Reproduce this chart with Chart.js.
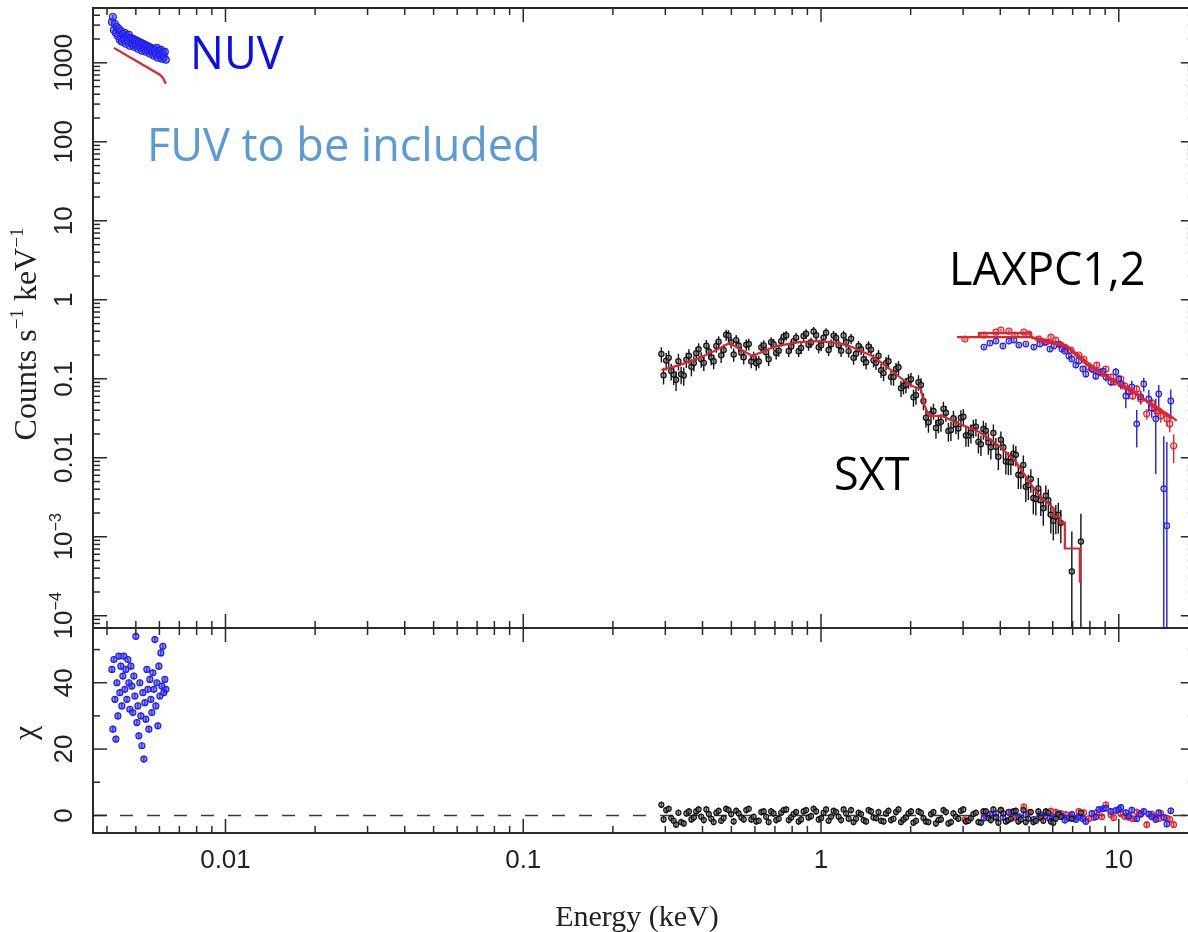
<!DOCTYPE html>
<html>
<head>
<meta charset="utf-8">
<title>AstroSat broadband spectrum</title>
<script src="https://cdn.jsdelivr.net/npm/chart.js@4.4.1/dist/chart.umd.min.js"></script>
<style>
  html, body { margin: 0; padding: 0; background: #fff; overflow: hidden; }
  #wrap { position: relative; width: 1188px; height: 932px; overflow: hidden; }
  #wrap canvas { position: absolute; left: 0; top: 0; }
</style>
</head>
<body>
<div id="wrap">
  <canvas id="spectrum" width="1200" height="932"></canvas>
  <canvas id="residuals" width="1200" height="932"></canvas>
</div>
<script>
// ===============================
// DATA
// ===============================

// UVIT NUV (keV, counts s^-1 keV^-1, chi)
const nuvEnergy = [0.004155, 0.004187, 0.004219, 0.004252, 0.004285, 0.004318, 0.004352, 0.004385, 0.004419, 0.004454,
    0.004488, 0.004523, 0.004558, 0.004593, 0.004629, 0.004665, 0.004701, 0.004738, 0.004774, 0.004811,
    0.004849, 0.004886, 0.004924, 0.004962, 0.005001, 0.005040, 0.005079, 0.005118, 0.005158, 0.005198,
    0.005238, 0.005279, 0.005320, 0.005361, 0.005403, 0.005445, 0.005487, 0.005530, 0.005573, 0.005616,
    0.005660, 0.005704, 0.005748, 0.005793, 0.005837, 0.005883, 0.005928, 0.005974, 0.006021, 0.006068,
    0.006115, 0.006162, 0.006210, 0.006258, 0.006307];
const nuvCounts = [3294, 3809, 2610, 3108, 2392, 2848, 2192, 2687, 1952, 2535,
    1842, 2324, 2009, 2392, 1738, 2130, 1896, 2257, 1639, 2069,
    1789, 2009, 1592, 1952, 1688, 1896, 1502, 1842, 1639, 1789,
    1418, 1738, 1547, 1688, 1377, 1639, 1459, 1592, 1299, 1547,
    1377, 1502, 1226, 1459, 1299, 1547, 1157, 1418, 1262, 1459,
    1123, 1338, 1191, 1377, 1091];
const nuvErr = 0.06;
const nuvChi = [44, 26, 47, 35, 23, 40, 30, 48, 37, 45,
    33, 42, 48, 38, 44, 35, 47, 40, 32, 45,
    39, 31, 42, 36, 54, 28, 33, 24, 40, 30,
    21, 37, 17, 34, 29, 44, 38, 26, 41, 35,
    31, 43, 38, 53, 33, 40, 27, 45, 36, 49,
    39, 51, 37, 41, 38];
const nuvModelEnergy = [0.004219, 0.006021, 0.006163, 0.006307];
const nuvModel = [1547, 706, 647, 543];

// SXT
const sxtEnergy = [0.291, 0.296, 0.302, 0.308, 0.314, 0.320, 0.326, 0.332, 0.339, 0.346,
    0.353, 0.360, 0.367, 0.374, 0.381, 0.388, 0.396, 0.404, 0.412, 0.420,
    0.428, 0.436, 0.445, 0.453, 0.462, 0.471, 0.480, 0.489, 0.499, 0.509,
    0.519, 0.529, 0.540, 0.550, 0.561, 0.572, 0.583, 0.594, 0.606, 0.618,
    0.630, 0.642, 0.654, 0.667, 0.680, 0.693, 0.707, 0.721, 0.735, 0.749,
    0.764, 0.779, 0.794, 0.809, 0.825, 0.841, 0.857, 0.874, 0.891, 0.908,
    0.926, 0.944, 0.963, 0.982, 1.001, 1.020, 1.040, 1.060, 1.081, 1.102,
    1.124, 1.146, 1.168, 1.191, 1.214, 1.238, 1.262, 1.286, 1.311, 1.337,
    1.363, 1.390, 1.417, 1.444, 1.472, 1.501, 1.530, 1.560, 1.591, 1.622,
    1.653, 1.685, 1.718, 1.752, 1.786, 1.821, 1.856, 1.892, 1.929, 1.967,
    2.005, 2.044, 2.084, 2.125, 2.166, 2.208, 2.251, 2.295, 2.340, 2.386,
    2.432, 2.480, 2.528, 2.577, 2.627, 2.678, 2.731, 2.784, 2.838, 2.893,
    2.950, 3.007, 3.066, 3.126, 3.187, 3.249, 3.313, 3.377, 3.443, 3.510,
    3.578, 3.648, 3.719, 3.792, 3.866, 3.941, 4.018, 4.096, 4.176, 4.257,
    4.340, 4.425, 4.511, 4.599, 4.689, 4.780, 4.873, 4.968, 5.065, 5.164,
    5.265, 5.368, 5.472, 5.579, 5.689, 5.800, 5.913, 6.028, 6.145, 6.265,
    6.388, 6.955, 7.46];
const sxtCounts = [0.206, 0.111, 0.170, 0.184, 0.125, 0.113, 0.097, 0.167, 0.114, 0.110,
    0.175, 0.196, 0.142, 0.158, 0.211, 0.237, 0.177, 0.159, 0.262, 0.221,
    0.186, 0.167, 0.260, 0.295, 0.198, 0.231, 0.361, 0.354, 0.291, 0.203,
    0.309, 0.264, 0.213, 0.187, 0.270, 0.275, 0.166, 0.186, 0.157, 0.166,
    0.250, 0.265, 0.217, 0.177, 0.291, 0.274, 0.212, 0.227, 0.299, 0.340,
    0.354, 0.225, 0.257, 0.300, 0.332, 0.223, 0.246, 0.349, 0.371, 0.270,
    0.288, 0.398, 0.355, 0.251, 0.266, 0.332, 0.382, 0.231, 0.274, 0.352,
    0.330, 0.266, 0.227, 0.353, 0.290, 0.224, 0.321, 0.184, 0.207, 0.260,
    0.237, 0.177, 0.162, 0.256, 0.234, 0.171, 0.159, 0.196, 0.128, 0.118,
    0.158, 0.167, 0.105, 0.105, 0.133, 0.140, 0.0761, 0.0811, 0.0840, 0.0949,
    0.0986, 0.0584, 0.0619, 0.0906, 0.0835, 0.0524, 0.0322, 0.0281, 0.0359, 0.0392,
    0.0239, 0.0277, 0.0285, 0.0416, 0.0371, 0.0219, 0.0224, 0.0316, 0.0264, 0.0234,
    0.0322, 0.0331, 0.0191, 0.0191, 0.0208, 0.0241, 0.0248, 0.0159, 0.0148, 0.0231,
    0.0220, 0.0156, 0.0136, 0.0206, 0.0138, 0.0103, 0.0169, 0.0136, 0.0090, 0.0089,
    0.0088, 0.0113, 0.0109, 0.0061, 0.0060, 0.0081, 0.0043, 0.0045, 0.0054, 0.0031,
    0.0030, 0.0041, 0.0029, 0.0023, 0.0033, 0.0029, 0.0019, 0.0016, 0.0018, 0.0019,
    0.0015, 0.000364, 0.00087];
// fractional 1-sigma errors
const sxtErr = [0.22, 0.24, 0.25, 0.23, 0.24, 0.26, 0.28, 0.24, 0.25, 0.26,
    0.22, 0.21, 0.24, 0.22, 0.20, 0.19, 0.22, 0.21, 0.18, 0.19,
    0.20, 0.21, 0.18, 0.17, 0.20, 0.18, 0.16, 0.16, 0.17, 0.19,
    0.16, 0.17, 0.18, 0.19, 0.16, 0.17, 0.18, 0.18, 0.19, 0.18,
    0.16, 0.16, 0.17, 0.18, 0.15, 0.16, 0.17, 0.16, 0.15, 0.14,
    0.14, 0.16, 0.16, 0.15, 0.15, 0.16, 0.16, 0.14, 0.14, 0.16,
    0.15, 0.14, 0.14, 0.16, 0.16, 0.15, 0.14, 0.16, 0.15, 0.14,
    0.15, 0.16, 0.17, 0.15, 0.15, 0.17, 0.15, 0.18, 0.17, 0.16,
    0.16, 0.18, 0.19, 0.17, 0.17, 0.19, 0.19, 0.18, 0.20, 0.21,
    0.19, 0.20, 0.21, 0.22, 0.19, 0.20, 0.23, 0.22, 0.22, 0.21,
    0.21, 0.24, 0.24, 0.22, 0.22, 0.24, 0.25, 0.26, 0.24, 0.23,
    0.27, 0.26, 0.25, 0.23, 0.23, 0.27, 0.27, 0.25, 0.25, 0.27,
    0.24, 0.25, 0.28, 0.28, 0.27, 0.26, 0.25, 0.29, 0.29, 0.27,
    0.26, 0.30, 0.30, 0.28, 0.29, 0.32, 0.27, 0.30, 0.32, 0.32,
    0.31, 0.30, 0.29, 0.34, 0.33, 0.32, 0.36, 0.35, 0.33, 0.38,
    0.38, 0.35, 0.37, 0.40, 0.35, 0.37, 0.42, 0.44, 0.40, 0.42,
    0.45, 2.2, 1.25];
const sxtChi = [3.2, -1.2, 1.6, 2.0, -0.8, -1.6, -2.8, 0.8, -2.0, -2.4,
    0.6, 1.2, -1.2, -0.6, 1.2, 1.8, -0.4, -1.4, 1.8, 0.4,
    -1.0, -2.0, 0.8, 1.4, -1.6, -0.8, 2.0, 1.6, 0.4, -1.8,
    1.4, 0.6, -0.6, -1.2, 1.6, 2.0, -1.2, -0.4, -1.8, -1.6,
    1.0, 1.2, -0.4, -2.0, 1.2, 0.6, -1.4, -1.0, 0.8, 1.6,
    1.8, -1.4, -0.6, 0.4, 1.0, -1.8, -1.2, 1.2, 1.6, -0.6,
    -0.2, 2.0, 1.2, -1.2, -0.8, 0.8, 1.8, -1.6, -0.4, 1.4,
    1.0, -0.4, -1.4, 1.8, 0.6, -1.0, 1.6, -2.0, -1.0, 0.8,
    0.4, -1.4, -1.8, 1.6, 1.2, -0.6, -0.8, 1.0, -1.6, -1.8,
    0.6, 1.4, -1.4, -1.0, 1.0, 1.8, -2.0, -1.2, -0.6, 0.6,
    1.2, -2.2, -1.6, 1.2, 0.8, -0.8, -1.8, -2.0, 0.4, 1.0,
    -2.4, -1.4, -1.2, 1.6, 1.0, -2.4, -2.0, 0.6, -0.4, -1.0,
    1.4, 1.8, -1.8, -1.6, -0.8, 0.4, 0.8, -2.0, -2.2, 1.2,
    1.2, -0.8, -1.4, 1.8, -0.6, -2.2, 1.6, 0.6, -1.8, -1.4,
    -1.0, 1.2, 1.4, -1.8, -1.2, 1.6, -2.0, -1.0, 1.0, -2.0,
    -1.6, 1.2, -0.6, -1.6, 1.2, 0.8, -1.8, -2.2, -1.0, 0.4,
    -0.4, -1.0, 0.8];
const sxtModelEnergy = [0.291, 0.334, 0.390, 0.438, 0.492, 0.588, 0.706, 0.844, 0.985, 1.15,
    1.27, 1.484, 1.653, 1.870, 2.021, 2.166, 2.216, 2.305, 2.548, 2.906,
    3.392, 3.958, 4.512, 5.107, 5.515, 5.82, 6.05, 6.05, 6.34, 6.34,
    6.59, 6.59, 7.40, 7.40, 7.51];
const sxtModel = [0.129, 0.149, 0.183, 0.224, 0.283, 0.194, 0.2595, 0.291, 0.300, 0.283,
    0.252, 0.194, 0.145, 0.0994, 0.0811, 0.0743, 0.0481, 0.0339, 0.0339, 0.0269,
    0.0213, 0.0142, 0.0089, 0.00443, 0.00304, 0.00263, 0.00227, 0.00180, 0.00180, 0.00151,
    0.00151, 0.00071, 0.00071, 0.000272, 0.000272];

// LAXPC1 (red)
const lx1Energy = [3.043, 3.525, 3.868, 4.020, 4.276, 4.477, 4.800, 4.990, 5.390, 5.645,
    5.915, 6.145, 6.388, 6.637, 6.901, 7.341, 7.631, 7.933, 8.244, 8.437,
    8.770, 9.052, 9.402, 9.623, 10.16, 10.47, 10.80, 11.14, 11.49, 11.85,
    12.41, 12.90, 13.21, 13.62, 13.83, 14.50, 14.83, 15.29];
const lx1Counts = [0.318, 0.357, 0.390, 0.413, 0.401, 0.357, 0.390, 0.368, 0.318, 0.291,
    0.337, 0.309, 0.267, 0.245, 0.231, 0.200, 0.178, 0.141, 0.129, 0.149,
    0.118, 0.133, 0.105, 0.0912, 0.0994, 0.0811, 0.0701, 0.0607, 0.0743, 0.0556,
    0.0360, 0.0495, 0.0416, 0.0392, 0.0339, 0.0311, 0.0269, 0.0142];
const lx1Err = [0.04, 0.04, 0.04, 0.04, 0.05, 0.05, 0.05, 0.05, 0.05, 0.06,
    0.06, 0.06, 0.06, 0.07, 0.07, 0.07, 0.07, 0.08, 0.08, 0.08,
    0.08, 0.09, 0.09, 0.10, 0.10, 0.10, 0.12, 0.12, 0.12, 0.14,
    0.15, 0.15, 0.16, 0.18, 0.18, 0.20, 0.22, 0.40];
const lx1Chi = [-1.3, 0.4, -0.5, 1.6, 1.0, -0.6, 2.6, 0.9, -0.8, -0.2,
    1.3, 1.0, 0.6, 0.3, -0.4, 1.2, 0.8, -1.0, -0.6, 0.8,
    -0.4, 3.2, 0.2, -0.7, 0.5, -0.3, -0.6, -1.0, 1.0, 0.3,
    -2.8, 0.4, -0.5, -1.0, 0.6, -0.8, -1.2, -2.8];
const lx1ModelEnergy = [2.862, 3.392, 5.067, 5.515, 6.637, 7.750, 9.474, 11.06, 12.90, 15.06, 15.65];
const lx1Model = [0.337, 0.337, 0.337, 0.300, 0.2595, 0.1538, 0.0994, 0.0681, 0.0481, 0.0329, 0.0293];

// LAXPC2 (blue)
const lx2Energy = [3.525, 3.692, 3.868, 4.082, 4.276, 4.443, 4.618, 4.875, 5.186, 5.433,
    5.690, 5.869, 6.053, 6.291, 6.440, 6.589, 6.797, 6.955, 7.174, 7.341,
    7.573, 7.750, 8.121, 8.372, 8.570, 8.838, 9.052, 9.402, 9.777, 10.0,
    10.16, 10.56, 10.80, 11.06, 11.49, 11.85, 12.13, 12.61, 12.90, 13.31,
    13.62, 14.16, 14.50, 14.95];
const lx2Counts = [0.252, 0.283, 0.300, 0.260, 0.300, 0.309, 0.267, 0.275, 0.252, 0.275,
    0.291, 0.238, 0.260, 0.275, 0.238, 0.224, 0.194, 0.178, 0.149, 0.168,
    0.133, 0.115, 0.133, 0.108, 0.122, 0.125, 0.105, 0.0912, 0.122, 0.0994,
    0.086, 0.0607, 0.0681, 0.0788, 0.0269, 0.0589, 0.086, 0.0556, 0.0428, 0.0311,
    0.0643, 0.00406, 0.00138, 0.0524];
const lx2Err = [0.05, 0.05, 0.05, 0.05, 0.05, 0.05, 0.05, 0.05, 0.06, 0.06,
    0.06, 0.06, 0.06, 0.07, 0.07, 0.07, 0.07, 0.08, 0.08, 0.08,
    0.08, 0.10, 0.10, 0.10, 0.10, 0.10, 0.12, 0.12, 0.12, 0.12,
    0.15, 0.30, 0.20, 0.20, 0.50, 0.20, 0.20, 0.30, 0.25, 0.80,
    0.30, 3.6, 10.5, 0.40];
const lx2Chi = [-0.8, 0.3, 0.6, -0.6, 0.9, 1.0, -0.4, 0.2, -1.2, 0.2,
    0.8, -0.9, -0.6, 0.4, -0.3, -1.4, -0.8, 0.3, -1.2, -0.5,
    -1.0, -1.8, 0.6, -0.4, 1.8, 2.0, 2.2, 1.2, 1.5, 1.8,
    2.4, 0.8, -0.2, 1.6, -1.0, 0.5, 1.2, 0.4, -0.4, -1.2,
    0.8, -0.6, -2.6, 1.4];
const lx2ModelEnergy = [3.392, 3.392, 5.067, 5.067, 5.515, 6.637, 7.750, 9.474, 11.06, 12.90, 15.06];
const lx2Model = [0.337, 0.379, 0.379, 0.337, 0.318, 0.267, 0.1678, 0.0938, 0.0743, 0.0453, 0.0311];

// axis ranges and labelled ticks
const energyRange = [0.00359, 18];
const countRange = [7.26e-5, 4940];
const chiRange = [-5.3, 56.5];
const energyTickValues = [0.01, 0.1, 1, 10];
const energyTickLabels = ['0.01', '0.1', '1', '10'];
const countTickValues = [1e-4, 1e-3, 0.01, 0.1, 1, 10, 100, 1000];
const countTickLabels = ['10^\u22124', '10^\u22123', '0.01', '0.1', '1', '10', '100', '1000'];
const chiTickValues = [0, 20, 40];
const chiMinorTicks = [10, 30, 50];

// ===============================
// STYLE + HELPERS
// ===============================

const AXIS = '#2a2a2a';
const BLACK = '#111111';
const BLUE = '#1f1fe8';
const RED = '#e0242c';
const SANS = '"Liberation Sans", Arial, sans-serif';
const SERIF = '"Liberation Serif", "Times New Roman", serif';
const LABEL_FONT = '"Open Sans", "Noto Sans", sans-serif';

const points = (xs, ys) => xs.map((x, i) => ({ x, y: ys[i] }));

// every 1..9 x 10^n step inside [min, max]
function logTicks(min, max) {
    const out = [];
    for (let e = Math.floor(Math.log10(min)); e <= Math.ceil(Math.log10(max)); e++) {
        for (let m = 1; m <= 9; m++) {
            const v = m * Math.pow(10, e);
            if (v >= min && v <= max) out.push({ v, major: m === 1 });
        }
    }
    return out;
}

function line(ctx, x1, y1, x2, y2) {
    ctx.beginPath();
    ctx.moveTo(x1, y1);
    ctx.lineTo(x2, y2);
    ctx.stroke();
}

// text with "^" marking a raised run, optionally turned to read upwards
function drawRich(ctx, text, size, family, x, y, rotate) {
    const parts = text.split(/(\^[^ ]+)/).filter(s => s).map(s =>
        s[0] === '^' ? { t: s.slice(1), sup: true } : { t: s, sup: false });
    ctx.save();
    ctx.translate(x, y);
    if (rotate) ctx.rotate(-Math.PI / 2);
    ctx.textAlign = 'left';
    ctx.textBaseline = 'alphabetic';
    const fonts = parts.map(p => (p.sup ? Math.round(size * 0.6) : size) + 'px ' + family);
    const widths = parts.map((p, i) => { ctx.font = fonts[i]; return ctx.measureText(p.t).width; });
    let cx = -widths.reduce((a, b) => a + b, 0) / 2;
    parts.forEach((p, i) => {
        ctx.font = fonts[i];
        ctx.fillText(p.t, cx, p.sup ? -size * 0.42 : 0);
        cx += widths[i];
    });
    ctx.restore();
}

// vertical error bars; "errors" are fractional (array or one value),
// "unitErrors" means +-1 as for chi residuals
const errorBars = {
    id: 'errorBars',
    beforeDatasetsDraw(chart) {
        const { ctx, chartArea: a, scales: { y } } = chart;
        ctx.save();
        ctx.beginPath();
        ctx.rect(a.left, a.top, a.right - a.left, a.bottom - a.top);
        ctx.clip();
        chart.data.datasets.forEach((ds, i) => {
            if (ds.errors === undefined && !ds.unitErrors) return;
            ctx.strokeStyle = ds.borderColor;
            ctx.lineWidth = 1.4;
            chart.getDatasetMeta(i).data.forEach((pt, j) => {
                const v = ds.data[j].y;
                let hi, lo;
                if (ds.unitErrors) {
                    hi = y.getPixelForValue(v + 1);
                    lo = y.getPixelForValue(v - 1);
                } else {
                    const f = Array.isArray(ds.errors) ? ds.errors[j] : ds.errors;
                    hi = y.getPixelForValue(v * (1 + f));
                    lo = v * (1 - f) > 0 ? y.getPixelForValue(v * (1 - f)) : a.bottom;
                }
                line(ctx, pt.x, hi, pt.x, lo);
            });
        });
        ctx.restore();
    }
};

const energyTicks = logTicks(energyRange[0], energyRange[1]);
const countTicks = logTicks(countRange[0], countRange[1]);

function dataSet(xs, ys, color, fill, radius, extra) {
    return Object.assign({
        data: points(xs, ys),
        borderColor: color,
        backgroundColor: fill,
        pointRadius: radius,
        pointBorderWidth: 1.2,
        showLine: false,
        order: 2
    }, extra);
}

function modelSet(xs, ys) {
    return {
        data: points(xs, ys),
        borderColor: RED,
        borderWidth: 2.2,
        pointRadius: 0,
        showLine: true,
        tension: 0,
        order: 0
    };
}

const common = {
    responsive: false,
    animation: false,
    devicePixelRatio: 1,
    events: [],
    plugins: { legend: { display: false }, tooltip: { enabled: false } }
};

// ===============================
// SPECTRUM PANEL
// ===============================

const spectrumAxes = {
    id: 'spectrumAxes',
    afterDraw(chart) {
        const { ctx, chartArea: a, scales: { x, y } } = chart;
        ctx.save();
        ctx.strokeStyle = AXIS;
        ctx.lineWidth = 1.5;
        energyTicks.forEach(t => {
            const px = x.getPixelForValue(t.v);
            const len = t.major ? 14 : 7;
            line(ctx, px, a.top, px, a.top + len);
            line(ctx, px, a.bottom, px, a.bottom - len);
        });
        countTicks.forEach(t => {
            const py = y.getPixelForValue(t.v);
            const len = t.major ? 14 : 7;
            line(ctx, a.left, py, a.left + len, py);
            line(ctx, a.right, py, a.right - len, py);
        });
        ctx.lineWidth = 2;
        ctx.strokeRect(a.left, a.top, a.right - a.left, a.bottom - a.top);

        ctx.fillStyle = '#222';
        countTickValues.forEach((v, i) => {
            drawRich(ctx, countTickLabels[i], 26, SANS, 72, y.getPixelForValue(v), true);
        });
        drawRich(ctx, 'Counts s^\u22121 keV^\u22121', 32, SERIF, 36, 334, true);

        ctx.font = '45px ' + LABEL_FONT;
        ctx.textAlign = 'left';
        ctx.textBaseline = 'alphabetic';
        ctx.fillStyle = '#0d0df2';
        ctx.fillText('NUV', 190, 69);
        ctx.fillStyle = '#5b9bd5';
        ctx.fillText('FUV to be included', 147, 161);
        ctx.fillStyle = '#000';
        ctx.fillText('LAXPC1,2', 949, 285);
        ctx.fillText('SXT', 834, 490);
        ctx.restore();
    }
};

new Chart(document.getElementById('spectrum'), {
    type: 'scatter',
    data: {
        datasets: [
            dataSet(nuvEnergy, nuvCounts, BLUE, 'rgba(60,60,255,0.5)', 3.4, { errors: nuvErr }),
            dataSet(sxtEnergy, sxtCounts, BLACK, 'rgba(110,110,110,0.55)', 2.6, { errors: sxtErr }),
            dataSet(lx2Energy, lx2Counts, BLUE, 'rgba(120,120,255,0.25)', 2.8, { errors: lx2Err }),
            dataSet(lx1Energy, lx1Counts, RED, 'rgba(255,120,120,0.2)', 3, { errors: lx1Err }),
            modelSet(nuvModelEnergy, nuvModel),
            modelSet(sxtModelEnergy, sxtModel),
            modelSet(lx1ModelEnergy, lx1Model),
            modelSet(lx2ModelEnergy, lx2Model)
        ]
    },
    options: Object.assign({}, common, {
        layout: { padding: { left: 93, top: 8, right: 4, bottom: 304 } },
        scales: {
            x: { type: 'logarithmic', min: energyRange[0], max: energyRange[1], display: false },
            y: { type: 'logarithmic', min: countRange[0], max: countRange[1], display: false }
        }
    }),
    plugins: [errorBars, spectrumAxes]
});

// ===============================
// RESIDUAL PANEL
// ===============================

const residualAxes = {
    id: 'residualAxes',
    beforeDatasetsDraw(chart) {
        const { ctx, chartArea: a, scales: { y } } = chart;
        ctx.save();
        ctx.strokeStyle = '#3a3a3a';
        ctx.lineWidth = 1.5;
        ctx.setLineDash([13, 14]);
        line(ctx, a.left, y.getPixelForValue(0), a.right, y.getPixelForValue(0));
        ctx.restore();
    },
    afterDraw(chart) {
        const { ctx, chartArea: a, scales: { x, y } } = chart;
        ctx.save();
        ctx.strokeStyle = AXIS;
        ctx.lineWidth = 1.5;
        energyTicks.forEach(t => {
            const px = x.getPixelForValue(t.v);
            const len = t.major ? 14 : 7;
            line(ctx, px, a.top, px, a.top + len);
            line(ctx, px, a.bottom, px, a.bottom - len);
        });
        chiTickValues.concat(chiMinorTicks).forEach(v => {
            const py = y.getPixelForValue(v);
            const len = chiTickValues.includes(v) ? 14 : 7;
            line(ctx, a.left, py, a.left + len, py);
            line(ctx, a.right, py, a.right - len, py);
        });
        ctx.lineWidth = 2;
        ctx.strokeRect(a.left, a.top, a.right - a.left, a.bottom - a.top);

        ctx.fillStyle = '#222';
        chiTickValues.forEach(v => {
            drawRich(ctx, String(v), 26, SANS, 72, y.getPixelForValue(v), true);
        });
        energyTickValues.forEach((v, i) => {
            drawRich(ctx, energyTickLabels[i], 26, SANS, x.getPixelForValue(v), 868, false);
        });
        drawRich(ctx, '\u03c7', 32, SERIF, 35, 733, true);
        drawRich(ctx, 'Energy (keV)', 30, SERIF, 637, 926, false);
        ctx.restore();
    }
};

new Chart(document.getElementById('residuals'), {
    type: 'scatter',
    data: {
        datasets: [
            dataSet(nuvEnergy, nuvChi, BLUE, 'rgba(60,60,255,0.55)', 3, { unitErrors: true }),
            dataSet(sxtEnergy, sxtChi, BLACK, 'rgba(110,110,110,0.55)', 2.5, { unitErrors: true }),
            dataSet(lx2Energy, lx2Chi, BLUE, 'rgba(60,60,255,0.4)', 2.8, { unitErrors: true }),
            dataSet(lx1Energy, lx1Chi, RED, 'rgba(255,60,60,0.35)', 2.8, { unitErrors: true })
        ]
    },
    options: Object.assign({}, common, {
        layout: { padding: { left: 93, top: 628, right: 4, bottom: 99 } },
        scales: {
            x: { type: 'logarithmic', min: energyRange[0], max: energyRange[1], display: false },
            y: { type: 'linear', min: chiRange[0], max: chiRange[1], display: false }
        }
    }),
    plugins: [errorBars, residualAxes]
});
</script>
</body>
</html>
